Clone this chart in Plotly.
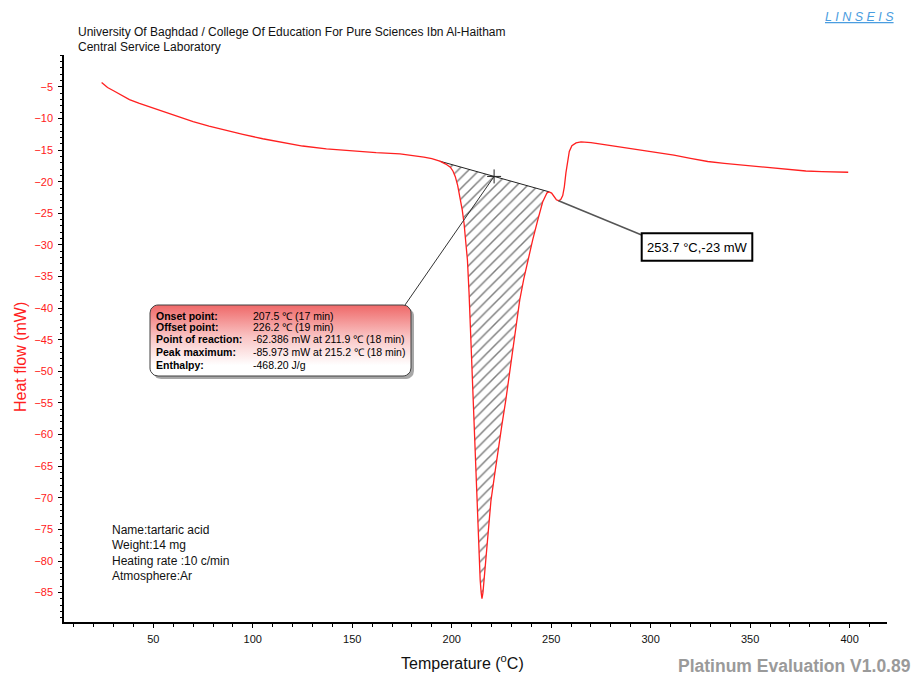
import numpy as np
import plotly.graph_objects as go

# ---------------- data ----------------
# DSC heat-flow curve: temperature (°C) and heat flow (mW)
temperature = [24.0, 25.0, 27.0, 30.0, 33.5, 38.0, 43.0, 48.5, 55.0, 62.0, 70.0, 78.0,
               86.0, 95.0, 105.0, 115.0, 125.0, 137.0, 150.0, 162.0, 174.0, 181.0,
               186.0, 190.0, 194.0, 197.0, 199.3, 200.6, 201.8, 203.0, 204.2, 205.3,
               206.2, 207.1, 207.9, 208.7, 209.5, 210.3, 211.1, 211.9, 212.6, 213.3,
               213.8, 214.3, 214.8, 215.2, 215.7, 216.3, 216.9, 217.7, 219.7, 221.5,
               223.2, 225.2, 227.2, 229.0, 230.7, 232.5, 234.2, 236.2, 238.2, 240.7,
               243.2, 245.7, 247.9, 249.0, 250.2, 251.4, 252.6, 253.7, 254.8, 255.8,
               256.6, 257.4, 258.2, 259.1, 260.4, 262.5, 265.0, 270.0, 278.4, 287.0,
               295.1, 303.0, 311.7, 320.0, 328.7, 337.0, 345.4, 354.0, 362.0, 370.0,
               378.0, 386.0, 393.0, 399.3]
heat_flow = [-4.3, -4.6, -5.1, -5.6, -6.25, -7.0, -7.6, -8.2, -8.95, -9.7, -10.5, -11.2,
             -11.85, -12.5, -13.2, -13.8, -14.35, -14.8, -15.15, -15.4, -15.6, -15.85,
             -16.1, -16.35, -16.75, -17.2, -17.7, -18.3, -19.2, -20.6, -22.4, -24.5,
             -26.6, -29.2, -32.4, -37.5, -44.0, -50.5, -56.5, -62.386, -69.0, -75.5,
             -80.0, -83.0, -85.0, -85.973, -85.0, -83.0, -80.0, -77.8, -70.5, -66.5,
             -62.5, -58.5, -54.5, -50.5, -46.6, -42.6, -38.7, -35.4, -32.4, -29.2,
             -26.1, -23.2, -21.75, -21.6, -21.8, -22.4, -22.85, -23.0, -22.8, -22.2,
             -20.8, -18.6, -16.6, -15.2, -14.3, -13.85, -13.7, -13.8, -14.2, -14.6,
             -15.0, -15.4, -15.8, -16.3, -16.8, -17.1, -17.35, -17.65, -17.9, -18.1,
             -18.3, -18.4, -18.45, -18.5]

# peak integration limits (baseline end points) and the marked baseline point
peak_start_T = 194.0
peak_end_T = 249.0
baseline_mark_T = 221.3

# labelled point on the curve
point_T = 253.7
point_mW = -23.0

x_tick_vals = [50, 100, 150, 200, 250, 300, 350, 400]
y_tick_vals = [-5, -10, -15, -20, -25, -30, -35, -40, -45, -50, -55, -60, -65, -70,
               -75, -80, -85]

x_range = [5.1, 418.8]
y_range = [-89.65, 0.05]

info_labels = ["Onset point:", "Offset point:", "Point of reaction:", "Peak maximum:",
               "Enthalpy:"]
info_values = ["207.5 ℃ (17 min)", "226.2 ℃ (19 min)",
               "-62.386 mW at 211.9 ℃ (18 min)", "-85.973 mW at 215.2 ℃ (18 min)",
               "-468.20 J/g"]
sample_lines = ["Name:tartaric acid", "Weight:14 mg", "Heating rate :10 c/min",
                "Atmosphere:Ar"]

# ---------------- layout geometry (pixels) ----------------
W, H = 915, 677
ML, MR, MT, MB = 64, 28, 55, 55
PW, PH = W - ML - MR, H - MT - MB
FONT = "Liberation Sans, Arial, sans-serif"
RED = "#ff2020"


def px_x(t):
    return ML + (t - x_range[0]) / (x_range[1] - x_range[0]) * PW


def px_y(v):
    return MT + (y_range[1] - v) / (y_range[1] - y_range[0]) * PH


def paper_x(px):
    return (px - ML) / PW


def paper_y(py):
    return (MT + PH - py) / PH


def rounded_rect(x0, y0, x1, y1, r, n=8):
    xs, ys = [], []
    corners = [(x1 - r, y0 + r, -90, 0), (x1 - r, y1 - r, 0, 90),
               (x0 + r, y1 - r, 90, 180), (x0 + r, y0 + r, 180, 270)]
    for cx, cy, a0, a1 in corners:
        for a in np.linspace(np.radians(a0), np.radians(a1), n):
            xs.append(cx + r * np.cos(a))
            ys.append(cy + r * np.sin(a))
    xs.append(xs[0])
    ys.append(ys[0])
    return xs, ys


def interp(t):
    return float(np.interp(t, temperature, heat_flow))


fig = go.Figure()

# hatched peak area between the curve and the integration baseline
T = np.array(temperature)
Q = np.array(heat_flow)
sel = (T >= peak_start_T) & (T <= peak_end_T)
base_y0 = interp(peak_start_T)
base_y1 = interp(peak_end_T)
fig.add_trace(go.Scatter(
    x=[peak_start_T] + list(T[sel]) + [peak_end_T],
    y=[base_y0] + list(Q[sel]) + [base_y1],
    mode="lines", fill="toself", line=dict(width=0),
    fillcolor="rgba(0,0,0,0)",
    fillpattern=dict(shape="/", size=7.5, solidity=0.2, fgcolor="#000000",
                     bgcolor="rgba(255,255,255,0)"),
    hoverinfo="skip", showlegend=False))

# baseline
fig.add_trace(go.Scatter(x=[peak_start_T, peak_end_T], y=[base_y0, base_y1],
                         mode="lines", line=dict(color="#222222", width=1),
                         hoverinfo="skip", showlegend=False))

# heat-flow curve
fig.add_trace(go.Scatter(x=temperature, y=heat_flow, mode="lines",
                         line=dict(color=RED, width=1.3), showlegend=False))

mark_y = base_y0 + (base_y1 - base_y0) * (baseline_mark_T - peak_start_T) / (peak_end_T - peak_start_T)
fig.add_trace(go.Scatter(x=[baseline_mark_T], y=[mark_y], mode="markers",
                         marker=dict(symbol="cross-thin", size=10,
                                     line=dict(color="#222222", width=1)),
                         showlegend=False, hoverinfo="skip"))

# ---------- overlay (pixel) frame for callouts ----------
BX0, BY0, BX1, BY1 = 150, 305, 411, 376

# leader lines
fig.add_trace(go.Scatter(x=[px_x(baseline_mark_T), 405], y=[px_y(mark_y), BY0],
                         xaxis="x2", yaxis="y2", mode="lines",
                         line=dict(color="#333333", width=1),
                         showlegend=False, hoverinfo="skip"))
fig.add_trace(go.Scatter(x=[px_x(point_T), 641.7], y=[px_y(point_mW), 235],
                         xaxis="x2", yaxis="y2", mode="lines",
                         line=dict(color="#555555", width=1.5),
                         showlegend=False, hoverinfo="skip"))

# shadow of info box
sx, sy = rounded_rect(BX0 + 3, BY0 + 3, BX1 + 3, BY1 + 3, 8)
fig.add_trace(go.Scatter(x=sx, y=sy, xaxis="x2", yaxis="y2", mode="lines",
                         fill="toself", fillcolor="rgba(60,60,60,0.45)",
                         line=dict(width=0), showlegend=False, hoverinfo="skip"))
# info box with vertical gradient
bx, by = rounded_rect(BX0, BY0, BX1, BY1, 8)
fig.add_trace(go.Scatter(x=bx, y=by, xaxis="x2", yaxis="y2", mode="lines",
                         fill="toself",
                         fillgradient=dict(type="vertical", start=BY0, stop=BY1,
                                           colorscale=[[0, "#ef6868"], [0.45, "#f9c4c4"],
                                                       [0.85, "#ffffff"], [1, "#ffffff"]]),
                         line=dict(color="#404040", width=1),
                         showlegend=False, hoverinfo="skip"))

annotations = []
row_y = [315.5, 327.2, 339.3, 351.7, 364.5]
for lab, val, yy in zip(info_labels, info_values, row_y):
    annotations.append(dict(x=154, y=yy, xref="x2", yref="y2", text="<b>" + lab + "</b>",
                            showarrow=False, xanchor="left", yanchor="middle",
                            font=dict(family=FONT, size=10.5, color="black")))
    annotations.append(dict(x=251, y=yy, xref="x2", yref="y2", text=val,
                            showarrow=False, xanchor="left", yanchor="middle",
                            font=dict(family=FONT, size=10.5, color="black")))

# point label box
fig.add_shape(type="rect", xref="x2", yref="y2", x0=641.7, y0=233.3, x1=752.3, y1=260.7,
              line=dict(color="black", width=2), fillcolor="white", layer="above")
annotations.append(dict(x=697, y=247, xref="x2", yref="y2",
                        text=f"{point_T} °C,{point_mW:g} mW", showarrow=False,
                        xanchor="center", yanchor="middle",
                        font=dict(family=FONT, size=13, color="black")))

# sample description
for i, line in enumerate(sample_lines):
    annotations.append(dict(x=110, y=530 + i * 15.3, xref="x2", yref="y2", text=line,
                            showarrow=False, xanchor="left", yanchor="middle",
                            font=dict(family=FONT, size=12, color="#111111")))

# header
annotations.append(dict(x=paper_x(76), y=paper_y(32), xref="paper", yref="paper",
                        text="University Of Baghdad / College Of Education For Pure Sciences Ibn Al-Haitham",
                        showarrow=False, xanchor="left", yanchor="middle",
                        font=dict(family=FONT, size=12, color="#111111")))
annotations.append(dict(x=paper_x(76), y=paper_y(47), xref="paper", yref="paper",
                        text="Central Service Laboratory", showarrow=False,
                        xanchor="left", yanchor="middle",
                        font=dict(family=FONT, size=12, color="#111111")))
# logo
annotations.append(dict(x=paper_x(859), y=paper_y(17), xref="paper", yref="paper",
                        text="<u><i>L I N S E I S</i></u>", showarrow=False,
                        xanchor="center", yanchor="middle",
                        font=dict(family=FONT, size=12.5, color="#4a9de0")))
# axis titles
annotations.append(dict(x=paper_x(20), y=paper_y(357), xref="paper", yref="paper",
                        text="Heat flow (mW)", textangle=-90, showarrow=False,
                        xanchor="center", yanchor="middle",
                        font=dict(family=FONT, size=16, color=RED)))
annotations.append(dict(x=paper_x(462), y=paper_y(662), xref="paper", yref="paper",
                        text="Temperature (<sup>o</sup>C)", showarrow=False,
                        xanchor="center", yanchor="middle",
                        font=dict(family=FONT, size=16, color="#111111")))
annotations.append(dict(x=paper_x(913), y=paper_y(666), xref="paper", yref="paper",
                        text="<b>Platinum Evaluation V1.0.89</b>", showarrow=False,
                        xanchor="right", yanchor="middle",
                        font=dict(family=FONT, size=17.5, color="#9a9a9a")))

fig.update_layout(
    width=W, height=H, margin=dict(l=ML, r=MR, t=MT, b=MB),
    paper_bgcolor="white", plot_bgcolor="white",
    showlegend=False, annotations=annotations,
    xaxis=dict(range=x_range, tickvals=x_tick_vals, ticks="outside", ticklen=4,
               tickcolor="black", showline=True, linecolor="black", linewidth=1.5,
               showgrid=False, zeroline=False, ticklabelstandoff=2,
               tickfont=dict(family=FONT, size=11, color="#111111"),
               minor=dict(dtick=10, ticks="outside", ticklen=3, tickcolor="black")),
    yaxis=dict(range=y_range, tickvals=y_tick_vals, ticks="outside", ticklen=4,
               tickcolor="black", showline=True, linecolor="black", linewidth=1.5,
               showgrid=False, zeroline=False, ticklabelstandoff=3,
               tickfont=dict(family=FONT, size=11, color=RED),
               minor=dict(dtick=1, ticks="outside", ticklen=2.5, tickcolor="black")),
    xaxis2=dict(range=[ML, ML + PW], overlaying="x", visible=False, fixedrange=True),
    yaxis2=dict(range=[MT + PH, MT], overlaying="y", visible=False, fixedrange=True),
)

fig.write_html("out.html")
